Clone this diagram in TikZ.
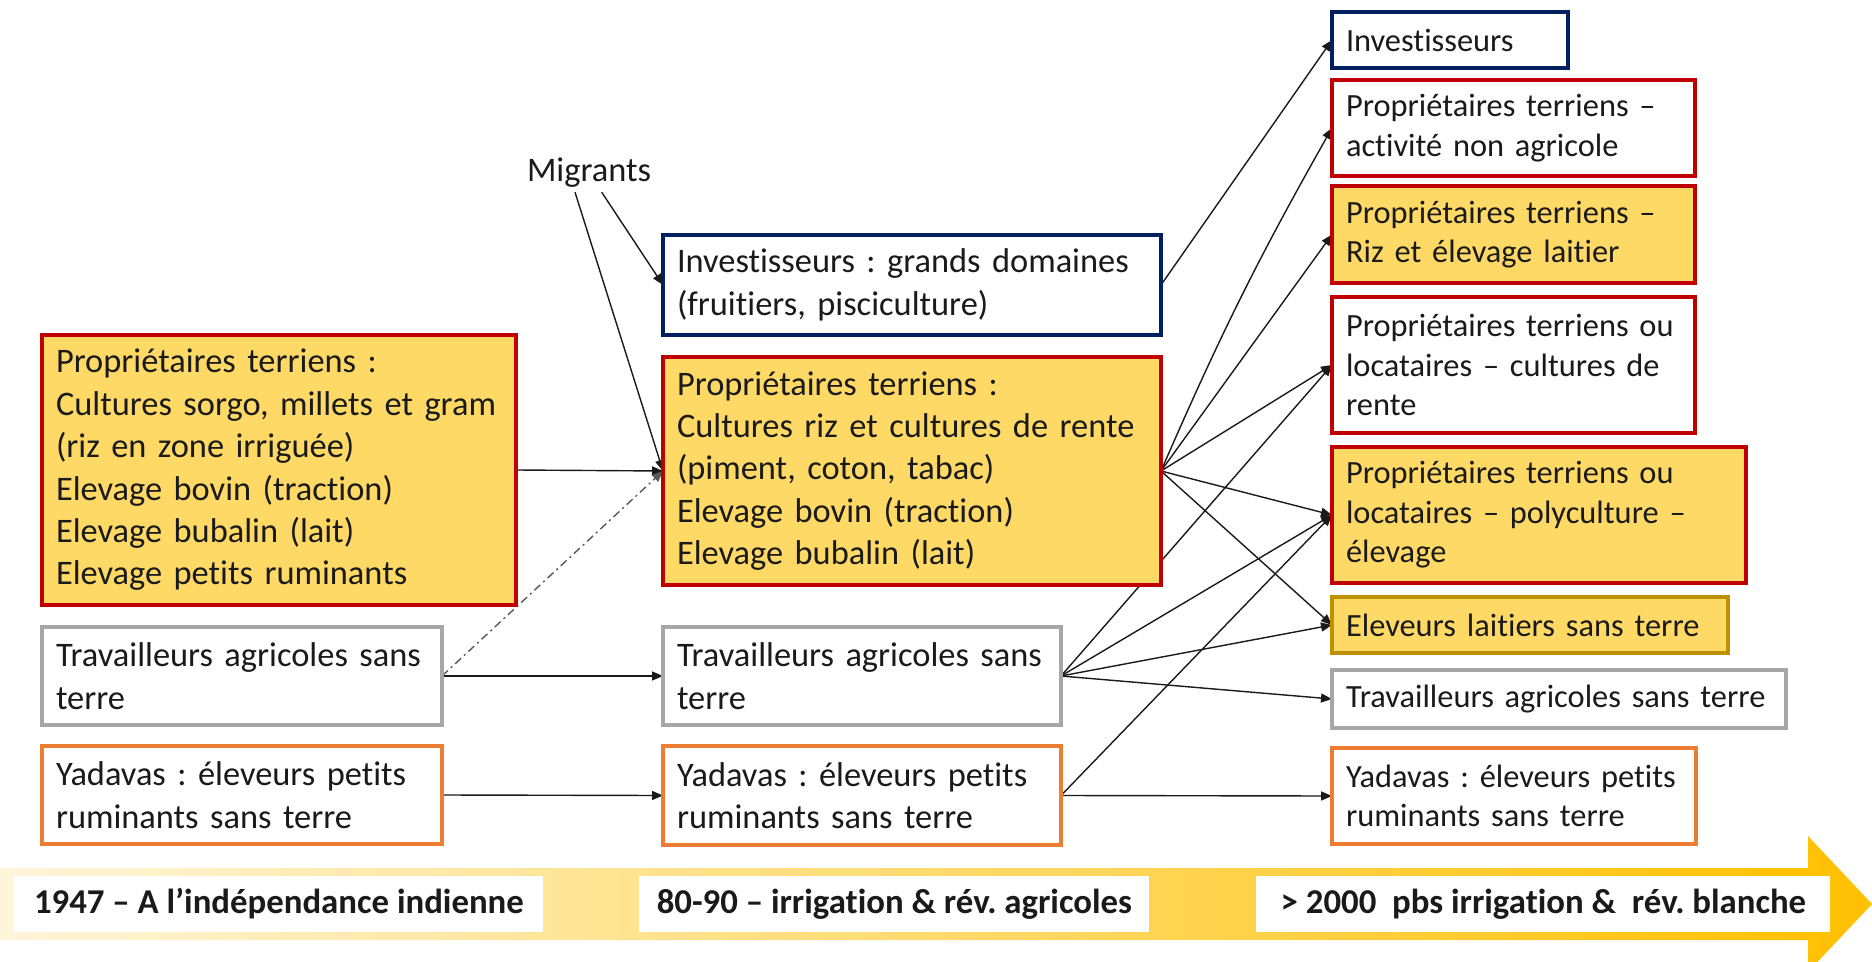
\documentclass[tikz,border=0pt]{standalone}
\usepackage{fontspec}
\setmainfont{Carlito}[Ligatures=NoCommon]
\frenchspacing
\usepackage{tikz}
\usetikzlibrary{arrows.meta,positioning,backgrounds}
\definecolor{Ink}{HTML}{1A1A1A}
\definecolor{Gold}{HTML}{FFD966}
\definecolor{Crimson}{HTML}{C00000}
\definecolor{Navy}{HTML}{002060}
\definecolor{Ash}{HTML}{A6A6A6}
\definecolor{Tangerine}{HTML}{ED7D31}
\definecolor{Ochre}{HTML}{BF9000}
\definecolor{BandPale}{HTML}{FFF5DA}
\definecolor{BandMid}{HTML}{FFD864}
\definecolor{BandDeep}{HTML}{FFC000}
\tikzset{
  grp/.style={draw,rectangle,line width=1.6pt,anchor=north west,align=left,outer sep=0pt,
    inner xsep=7pt,inner ysep=0pt,text=Ink,font=\fontsize{17.2}{21.2}\selectfont},
  grpright/.style={grp,font=\fontsize{16.2}{19.7}\selectfont},
  owner/.style={draw=Crimson,fill=Gold},
  ownerplain/.style={draw=Crimson,fill=white},
  investor/.style={draw=Navy,fill=white},
  landless/.style={draw=Ash,fill=white},
  yadava/.style={draw=Tangerine,fill=white},
  dairy/.style={draw=Ochre,fill=Gold},
  era/.style={fill=white,inner xsep=7.5pt,inner ysep=0pt,minimum height=28pt,anchor=west,
    font=\fontsize{17.4}{20}\selectfont\bfseries,text=Ink},
  arrow/.style={-{Triangle[length=5.5pt,width=4.5pt]},line width=0.7pt,color=Ink},
  dotarrow/.style={arrow,color=black!65,dash pattern=on 4pt off 2pt on 1pt off 2pt}
}
\begin{document}
\begin{tikzpicture}[x=0.5pt,y=-0.5pt]
  \useasboundingbox (0,0) rectangle (1872,962);
  \path[left color=BandPale,middle color=BandMid,right color=BandDeep]
    (0,868) -- (1808,868) -- (1808,836) -- (1872,904) -- (1808,972) -- (1808,940) -- (0,940) -- cycle;
  \node[era,minimum width=264.5pt] (e1947) at (14,904) {1947 – A l’indépendance indienne};
  \node[era,minimum width=255pt] (e8090) at (639,904) {80-90 – irrigation \& rév. agricoles};
  \node[era,minimum width=287pt] (e2000) at (1256,904) {> 2000\ \ pbs irrigation \&\ \ rév. blanche};

  \node[grp,owner,minimum width=237pt,minimum height=135pt,text width=223pt] (lpt) at (42,335)
    {Propriétaires terriens :\\Cultures sorgo, millets et gram\\(riz en zone irriguée)\\Elevage bovin (traction)\\Elevage bubalin (lait)\\Elevage petits ruminants};
  \node[grp,landless,minimum width=200pt,minimum height=49pt,text width=186pt,
    below=11pt of lpt.south west,anchor=north west] (ltrav) {Travailleurs agricoles sans\\terre};
  \node[grp,yadava,minimum width=200pt,minimum height=49pt,text width=186pt,
    below=10.5pt of ltrav.south west,anchor=north west] (lyad) {Yadavas : éleveurs petits\\ruminants sans terre};

  \node[grp,investor,minimum width=249pt,minimum height=50pt,text width=235pt] (minv) at (663,235)
    {Investisseurs : grands domaines\\(fruitiers, pisciculture)};
  \node[grp,owner,minimum width=249pt,minimum height=114pt,text width=235pt,
    below=11pt of minv.south west,anchor=north west] (mpt)
    {Propriétaires terriens :\\Cultures riz et cultures de rente\\(piment, coton, tabac)\\Elevage bovin (traction)\\Elevage bubalin (lait)};
  \node[grp,landless,minimum width=199pt,minimum height=49pt,text width=185pt,
    below=21pt of mpt.south west,anchor=north west] (mtrav) {Travailleurs agricoles sans\\terre};
  \node[grp,yadava,minimum width=199pt,minimum height=49.5pt,text width=185pt,
    below=10.5pt of mtrav.south west,anchor=north west] (myad) {Yadavas : éleveurs petits\\ruminants sans terre};

  \node[grpright,investor,minimum width=118pt,minimum height=28pt,text width=104pt] (rinv) at (1332,12) {Investisseurs};
  \node[grpright,ownerplain,minimum width=181.5pt,minimum height=48pt,text width=167.5pt,
    below=6pt of rinv.south west,anchor=north west] (rnonag) {Propriétaires terriens –\\activité non agricole};
  \node[grpright,owner,minimum width=181.5pt,minimum height=48.5pt,text width=167.5pt,
    below=5pt of rnonag.south west,anchor=north west] (rriz) {Propriétaires terriens –\\Riz et élevage laitier};
  \node[grpright,ownerplain,minimum width=181.5pt,minimum height=68pt,text width=167.5pt,
    below=7pt of rriz.south west,anchor=north west] (rrente) {Propriétaires terriens ou\\locataires – cultures de\\rente};
  \node[grpright,owner,minimum width=207pt,minimum height=68pt,text width=193pt,
    below=7pt of rrente.south west,anchor=north west] (rpoly) {Propriétaires terriens ou\\locataires – polyculture –\\élevage};
  \node[grpright,dairy,minimum width=198pt,minimum height=28pt,text width=184pt,
    below=7pt of rpoly.south west,anchor=north west] (rlait) {Eleveurs laitiers sans terre};
  \node[grpright,landless,minimum width=227pt,minimum height=29pt,text width=213pt,
    below=8.5pt of rlait.south west,anchor=north west] (rtrav) {Travailleurs agricoles sans terre};
  \node[grpright,yadava,minimum width=182pt,minimum height=48pt,text width=168pt,
    below=10pt of rtrav.south west,anchor=north west] (ryad) {Yadavas : éleveurs petits\\ruminants sans terre};

  \node[text=Ink,font=\fontsize{17.2}{20}\selectfont,inner sep=2pt] (mgr) at (589,173) {Migrants};

  \begin{scope}[on background layer]
    \fill[white] (0,0) rectangle (1872,962);
    \draw[arrow] (lpt.east) -- (mpt.west);
    \draw[dotarrow] (ltrav.east) -- (mpt.west);
    \draw[arrow] (ltrav.east) -- (mtrav.west);
    \draw[arrow] (lyad.east) -- (myad.west);
    \draw[arrow] (mgr) -- (minv.west);
    \draw[arrow] ([xshift=-7pt]mgr.south) -- (mpt.west);
    \draw[arrow] (minv.east) -- (rinv.west);
    \draw[arrow] (mpt.east) to[bend left=3] (rnonag.west);
    \draw[arrow] (mpt.east) -- (rriz.west);
    \draw[arrow] (mpt.east) -- (rrente.west);
    \draw[arrow] (mpt.east) -- (rpoly.west);
    \draw[arrow] (mpt.east) -- (rlait.west);
    \draw[arrow] (mtrav.east) -- (rrente.west);
    \draw[arrow] (mtrav.east) -- (rpoly.west);
    \draw[arrow] (mtrav.east) -- (rlait.west);
    \draw[arrow] (mtrav.east) -- (rtrav.west);
    \draw[arrow] (myad.east) -- (rpoly.west);
    \draw[arrow] (myad.east) -- (ryad.west);
  \end{scope}
\end{tikzpicture}
\end{document}
